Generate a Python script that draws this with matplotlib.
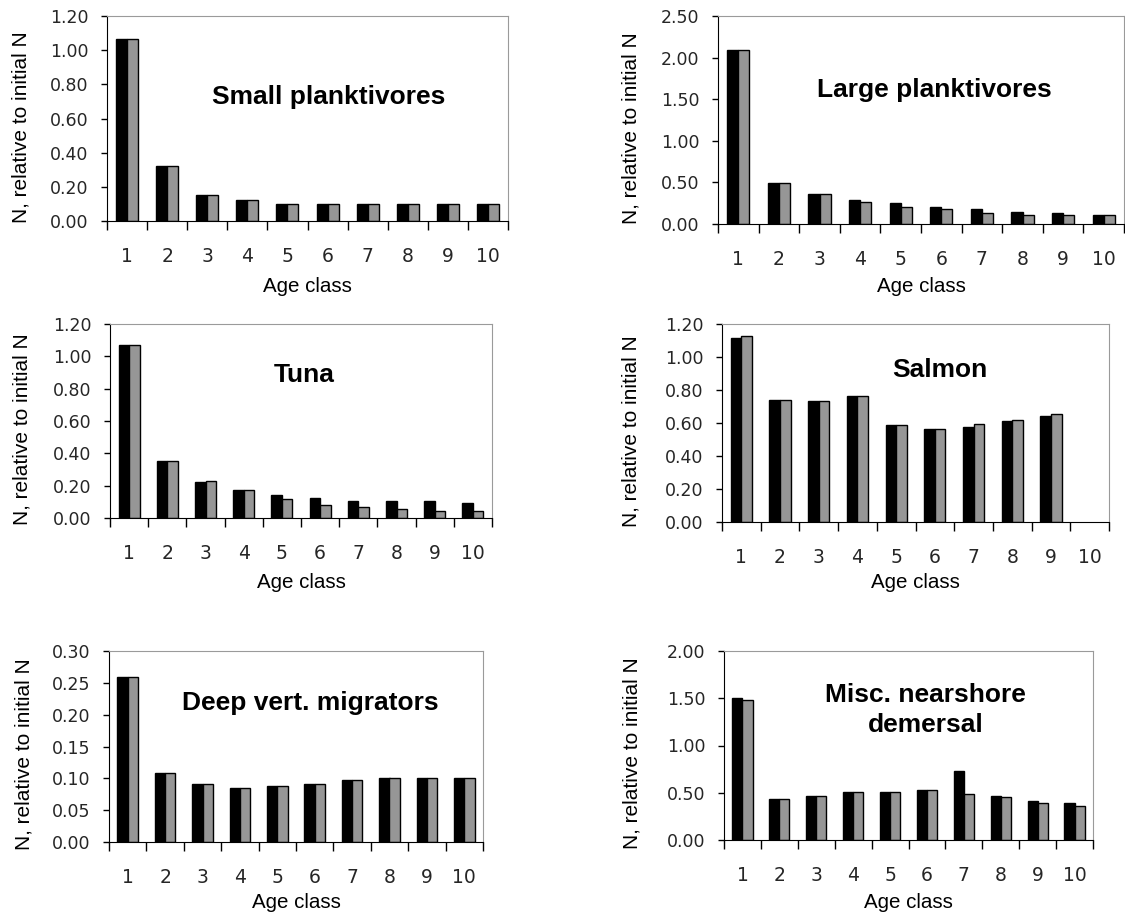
import numpy as np
from matplotlib import pyplot as plt
from matplotlib.ticker import FormatStrFormatter, FixedLocator

# age classes and the two model runs per group (black / grey bars)
age = np.arange(1, 11)

small_black = [1.065, 0.32, 0.155, 0.122, 0.10, 0.10, 0.10, 0.10, 0.10, 0.10]
small_gray = [1.065, 0.32, 0.155, 0.122, 0.10, 0.10, 0.10, 0.10, 0.10, 0.10]

large_black = [2.09, 0.49, 0.36, 0.29, 0.25, 0.20, 0.18, 0.15, 0.13, 0.11]
large_gray = [2.09, 0.49, 0.36, 0.27, 0.20, 0.18, 0.13, 0.11, 0.11, 0.11]

tuna_black = [1.07, 0.355, 0.22, 0.175, 0.14, 0.125, 0.105, 0.105, 0.105, 0.093]
tuna_gray = [1.07, 0.355, 0.23, 0.175, 0.115, 0.083, 0.07, 0.056, 0.045, 0.045]

salmon_black = [1.115, 0.742, 0.732, 0.765, 0.585, 0.563, 0.575, 0.61, 0.642, np.nan]
salmon_gray = [1.127, 0.742, 0.732, 0.765, 0.585, 0.563, 0.596, 0.62, 0.652, np.nan]

deep_black = [0.259, 0.109, 0.091, 0.0855, 0.0886, 0.091, 0.097, 0.100, 0.100, 0.100]
deep_gray = [0.259, 0.109, 0.091, 0.0855, 0.0886, 0.091, 0.097, 0.100, 0.100, 0.100]

misc_black = [1.50, 0.43, 0.47, 0.51, 0.51, 0.53, 0.73, 0.47, 0.415, 0.395]
misc_gray = [1.48, 0.43, 0.47, 0.51, 0.51, 0.53, 0.49, 0.45, 0.395, 0.355]

W, H = 1125, 919
fig = plt.figure(figsize=(W / 100, H / 100), dpi=100)

# (title, black, grey, ymax, ystep, box in px (l, t, r, b), title pos, ylabel x offset px, xlabel offset px)
panels = [
    ('Small planktivores', small_black, small_gray, 1.2, 0.2, (107, 16, 508, 221), (0.554, 0.605), -86, 66),
    ('Large planktivores', large_black, large_gray, 2.5, 0.5, (718, 16, 1124, 224), (0.532, 0.644), -87, 63),
    ('Tuna', tuna_black, tuna_gray, 1.2, 0.2, (110, 324, 492, 518), (0.508, 0.737), -88, 65),
    ('Salmon', salmon_black, salmon_gray, 1.2, 0.2, (722, 324, 1109, 522), (0.563, 0.768), -91, 61),
    ('Deep vert. migrators', deep_black, deep_gray, 0.3, 0.05, (109, 651, 483, 842), (0.537, 0.728), -85, 61),
    ('Misc. nearshore\ndemersal', misc_black, misc_gray, 2.0, 0.5, (724, 651, 1093, 840), (0.547, 0.688), -92, 63),
]

bw = 0.275
for title, blk, gry, ymax, ystep, (l, t, r, b), (tx, ty), ylx, xly in panels:
    ax = fig.add_axes([l / W, 1 - b / H, (r - l) / W, (b - t) / H])
    ax.bar(age - bw / 2, blk, bw, color='black', edgecolor='black', linewidth=1)
    ax.bar(age + bw / 2, gry, bw, color='#969696', edgecolor='black', linewidth=1)
    ax.set_xlim(0.5, 10.5)
    ax.set_ylim(0, ymax)
    ax.set_yticks(np.arange(0, ymax + ystep / 2, ystep))
    ax.yaxis.set_major_formatter(FormatStrFormatter('%.2f'))
    ax.set_xticks(age)
    ax.xaxis.set_minor_locator(FixedLocator(np.arange(0.5, 11, 1)))
    ax.tick_params(axis='x', which='major', length=0, pad=19, labelsize=13.5)
    ax.tick_params(axis='x', which='minor', length=6.5, width=1, direction='out')
    ax.tick_params(axis='y', length=4.3, width=1, direction='out', pad=9, labelsize=12.5)
    for lab in ax.get_xticklabels() + ax.get_yticklabels():
        lab.set_family('DejaVu Sans')
        lab.set_color('#262626')
    for s in ['top', 'right']:
        ax.spines[s].set_color('#9a9a9a')
    for s in ['left', 'bottom']:
        ax.spines[s].set_color('black')
    ax.set_ylabel('N, relative to initial N', family='Liberation Sans', fontsize=15)
    ax.yaxis.set_label_coords(ylx / (r - l), 0.46)
    ax.yaxis.label.set_va('center')
    ax.set_xlabel('Age class', family='Liberation Sans', fontsize=14.8)
    ax.xaxis.set_label_coords(0.5, -xly / (b - t))
    ax.xaxis.label.set_va('center')
    ax.text(tx, ty, title, transform=ax.transAxes, ha='center', va='center',
            family='Liberation Sans', fontweight='bold', fontsize=19, linespacing=1.3)

fig.savefig('out.png', dpi=100)
